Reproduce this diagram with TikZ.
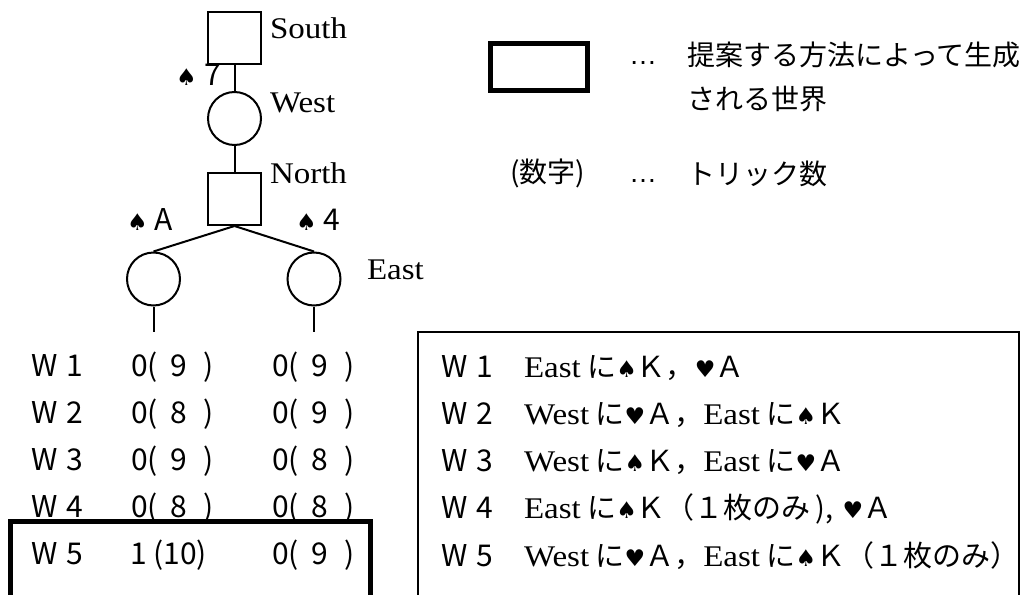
\documentclass[tikz,border=0pt]{standalone}
\usepackage{fontspec}
\newfontfamily\jpf{Noto Sans CJK JP}
\newfontfamily\serf[FakeStretch=1.1]{Liberation Serif}
\newfontfamily\symf{DejaVu Sans}
\newfontfamily\latf{Liberation Sans}
\newcommand\spadesym{{\symf\fontsize{23}{23}\selectfont ♠}}
\newcommand\heartsym{{\symf\fontsize{23}{23}\selectfont ♥}}
\newcommand\sr[1]{{\serf\fontsize{30}{30}\selectfont #1}}
\newcommand\trk[2]{#1(\hspace{12.5pt}#2\hspace{16.5pt})}
\newcommand\wl[1]{W\hspace{9pt}#1}
\tikzset{
  lbl/.style={anchor=base west, inner sep=0pt, outer sep=0pt},
  jp/.style={lbl, font=\jpf\fontsize{28}{28}\selectfont},
  tb/.style={lbl, font=\jpf\fontsize{30}{30}\selectfont},
  rb/.style={lbl, font=\jpf\fontsize{29}{29}\selectfont},
  trlbl/.style={lbl, font=\serf\fontsize{30}{30}\selectfont},
  sqnode/.style={draw, line width=2pt, rectangle, minimum width=53pt, minimum height=52pt, inner sep=0pt},
  circnode/.style={draw, line width=2pt, circle, minimum size=53pt, inner sep=0pt},
  edge/.style={line width=2pt},
  thickbox/.style={draw, line width=5pt},
  thinbox/.style={draw, line width=2pt},
}
\begin{document}
\begin{tikzpicture}[x=1pt,y=-1pt]
\useasboundingbox (0,0) rectangle (1035,594);
\clip (0,0) rectangle (1035,594);
% tree
\node[sqnode] (S) at (234.5,38) {};
\node[circnode] (W) at (234.5,118.5) {};
\node[sqnode] (N) at (234.5,199) {};
\node[circnode] (E1) at (153.5,279) {};
\node[circnode] (E2) at (314,279) {};
\coordinate (L1) at (153.5,332);
\coordinate (L2) at (314,332);
\draw[edge] (S.south) -- (W.north);
\draw[edge] (W.south) -- (N.north);
\draw[edge] (N.south) -- (E1.north);
\draw[edge] (N.south) -- (E2.north);
\draw[edge] (E1.south) -- (L1);
\draw[edge] (E2.south) -- (L2);
\node[trlbl] (tS) at (270,38) {South};
\node[trlbl] (tW) at (270,112) {West};
\node[trlbl] (tN) at (270,183) {North};
\node[trlbl] (tE) at (367,279) {East};
\node[tb] (m7) at (176,85) {\spadesym\hspace{8pt}7};
\node[tb] (mA) at (127,230) {\spadesym\hspace{7pt}A};
\node[tb] (m4) at (296,230) {\spadesym\hspace{7pt}4};
% legend
\node[thickbox, minimum width=97pt, minimum height=47pt, inner sep=0pt] (lg) at (539,67) {};
\node[lbl, font=\latf\fontsize{28}{28}\selectfont] (d1) at (629,64) {…};
\node[jp] (g1) at (687,65) {提案する方法によって生成};
\node[jp] (g2) at (687,109) {される世界};
\node[jp] (g3) at (510,182) {(数字)};
\node[lbl, font=\latf\fontsize{28}{28}\selectfont] (d2) at (629,182) {…};
\node[jp] (g4) at (687,184) {トリック数};
% left table
\node[tb] (a1) at (31,376) {\wl{1}};
\node[tb] (a2) at (31,423) {\wl{2}};
\node[tb] (a3) at (31,470) {\wl{3}};
\node[tb] (a4) at (31,517.5) {\wl{4}};
\node[tb] (a5) at (31,564) {\wl{5}};
\node[tb] (b1) at (131,376) {\trk{0}{9}};
\node[tb] (b2) at (131,423) {\trk{0}{8}};
\node[tb] (b3) at (131,470) {\trk{0}{9}};
\node[tb] (b4) at (131,517.5) {\trk{0}{8}};
\node[tb] (b5) at (130,564) {1 (10)};
\begin{scope}
\clip (260,340) rectangle (352,594);
\node[tb] (c1) at (272,376) {\trk{0}{9}};
\node[tb] (c2) at (272,423) {\trk{0}{9}};
\node[tb] (c3) at (272,470) {\trk{0}{8}};
\node[tb] (c4) at (272,517.5) {\trk{0}{8}};
\node[tb] (c5) at (272,564) {\trk{0}{9}};
\end{scope}
\draw[thickbox] (10.5,521.5) rectangle (370.5,610);
% right box
\draw[thinbox] (418,332) rectangle (1019,610);
\node[tb] (r1) at (441,377) {\wl{1}};
\node[tb] (r2) at (441,424) {\wl{2}};
\node[tb] (r3) at (441,471) {\wl{3}};
\node[tb] (r4) at (441,518) {\wl{4}};
\node[tb] (r5) at (441,566) {\wl{5}};
\node[rb] (s1) at (524,377) {\sr{East} に\spadesym Ｋ，\heartsym Ａ};
\node[rb] (s2) at (524,424) {\sr{West} に\heartsym Ａ，\sr{East} に\spadesym Ｋ};
\node[rb] (s3) at (524,471) {\sr{West} に\spadesym Ｋ，\sr{East} に\heartsym Ａ};
\node[rb] (s4) at (524,518) {\sr{East} に\spadesym Ｋ（１枚のみ\,),\hspace{9pt}\heartsym Ａ};
\node[rb] (s5) at (524,566) {\sr{West} に\heartsym Ａ，\sr{East} に\spadesym Ｋ（１枚のみ）};
\end{tikzpicture}
\end{document}
